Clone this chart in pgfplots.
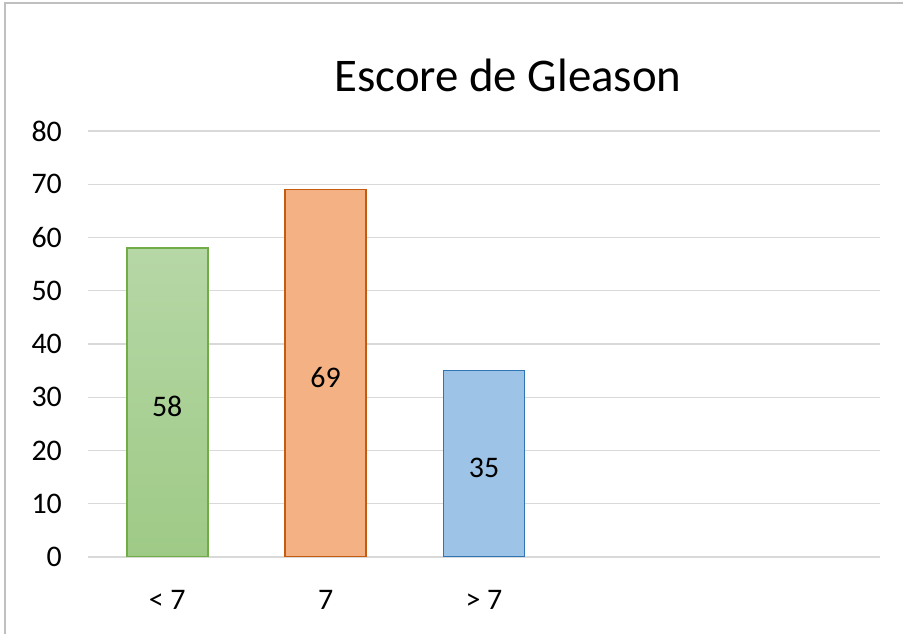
\documentclass[border=0pt]{standalone}
\usepackage{pgfplots}
\pgfplotsset{compat=1.18}
\usepackage{fontspec}
\setmainfont{Carlito}
\definecolor{gridc}{HTML}{D9D9D9}
\definecolor{frame}{HTML}{BFBFBF}
\definecolor{gB}{HTML}{70AD47}
\definecolor{gTop}{HTML}{B6D7A6}
\definecolor{gBot}{HTML}{9ECA86}
\definecolor{oB}{HTML}{C55A11}
\definecolor{oF}{HTML}{F4B183}
\definecolor{bB}{HTML}{2E75B6}
\definecolor{bF}{HTML}{9DC3E6}
\begin{document}
\begin{tikzpicture}
\useasboundingbox (0,0) rectangle (903bp,634bp);
\fill[white] (0,0) rectangle (903bp,634bp);
\draw[frame, line width=2bp] (5bp,0) -- (5bp,631bp) -- (903bp,631bp);
\node[anchor=base, font=\fontsize{47}{56}\selectfont] at (508bp,542bp) {Escore de Gleason};
\begin{axis}[
  at={(88bp,77bp)}, anchor=south west,
  scale only axis, width=792bp, height=426bp,
  ymin=0, ymax=80, xmin=-0.5, xmax=4.5,
  ytick={0,10,...,80},
  xtick={0,1,2},
  xticklabels={{< 7},{7},{> 7}},
  /pgf/number format/assume math mode=true,
  ymajorgrids,
  grid style={gridc, line width=1.3bp},
  axis line style={draw=none},
  major tick length=0pt,
  tick label style={font=\fontsize{30}{36}\selectfont, text=black},
  yticklabel style={anchor=east, inner sep=0pt, xshift=-26bp},
  xticklabel style={anchor=base, inner sep=0pt, yshift=-52bp},
  ybar, bar width=81bp,
  nodes near coords align={center},
]
\addplot[bar shift=0pt, draw=gB, line width=2bp, top color=gTop, bottom color=gBot] coordinates {(0,58)};
\addplot[bar shift=0pt, draw=oB, line width=1.3bp, fill=oF] coordinates {(1,69)};
\addplot[bar shift=0pt, draw=bB, line width=1.3bp, fill=bF] coordinates {(2,35)};
\addplot[bar shift=0pt, draw=none, fill=none, forget plot,
  point meta=explicit symbolic,
  nodes near coords,
  every node near coord/.append style={font=\fontsize{30}{36}\selectfont, text=black, anchor=center, yshift=-4bp}]
  coordinates {(0,29)[58] (1,34.5)[69] (2,17.5)[35]};
\end{axis}
\end{tikzpicture}
\end{document}
